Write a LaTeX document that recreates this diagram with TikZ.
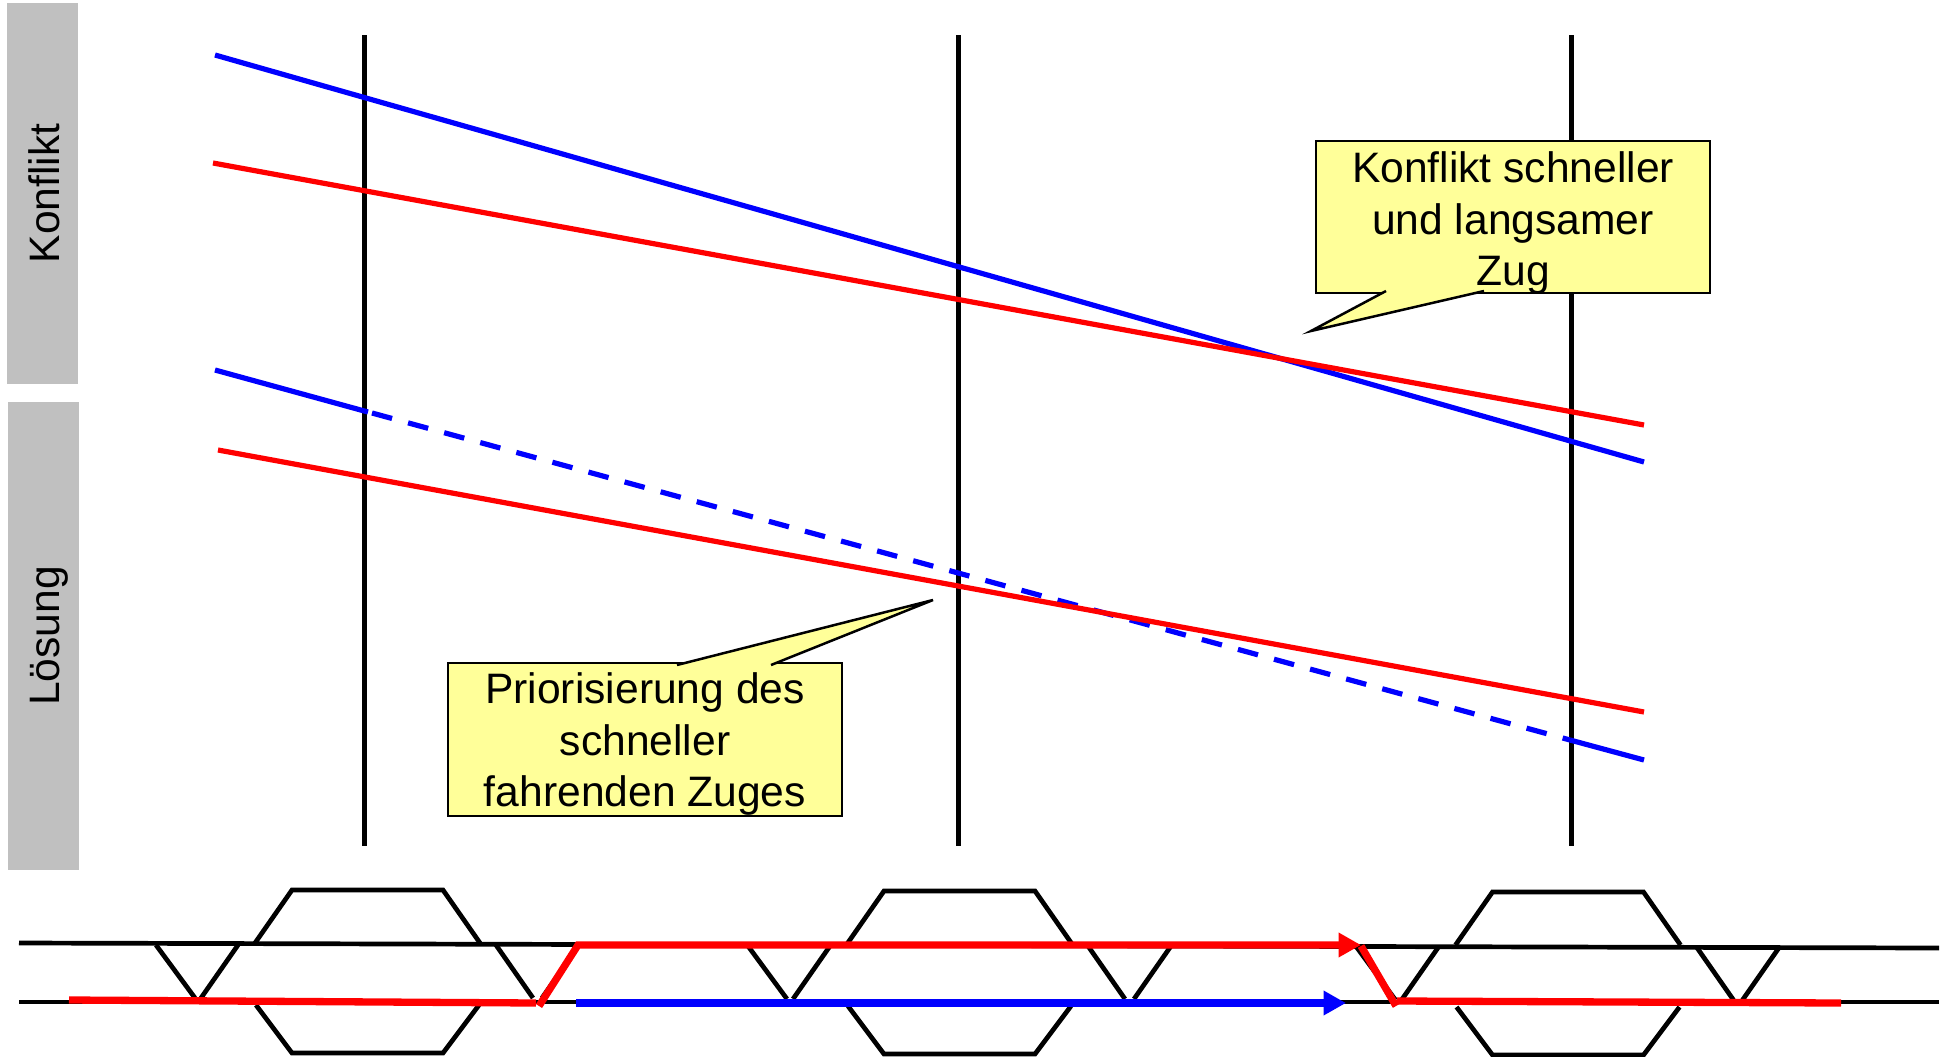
\documentclass[tikz,border=0pt]{standalone}
\usepackage{fontspec}
\setmainfont{Liberation Sans}
\usepackage{xcolor}
\usetikzlibrary{arrows.meta}
\definecolor{notiz}{HTML}{FFFF99}
\definecolor{seite}{HTML}{C0C0C0}

\begin{document}
\begin{tikzpicture}[
    x=0.5pt, y=-0.5pt,
    font=\fontsize{21.3}{25.75}\selectfont,
    side/.style={fill=seite, rotate=90, inner sep=0pt, minimum height=35.5pt, text height=16.5pt, text depth=0pt},
    pole/.style={draw=black, line width=2.65pt},
    fast/.style={draw=blue, line width=2.6pt},
    slow/.style={draw=red, line width=2.6pt},
    note/.style={draw=black, fill=notiz, line width=1.25pt, inner sep=0pt},
    tag/.style={fill=notiz, draw=black, line width=1.25pt},
    txt/.style={align=center, inner sep=0pt},
    track/.style={draw=black, line width=2.35pt},
    thick run/.style={line width=3.65pt},
    run/.style={thick run, -{Triangle[length=11.25pt, width=11.7pt]}},
]
    \useasboundingbox (0,0) rectangle (1951,1056);

    \node[side, minimum width=190.5pt] (konflikt) at (42.5,193.5) {Konflikt};
    \node[side, minimum width=234pt] (loesung) at (43,636) {Lösung};

    \foreach \vx in {364.5,958.5,1571.5}
        \draw[pole] (\vx,35) -- (\vx,846);

    % Konflikt
    \draw[fast] (215,55) -- (1644,462);
    \draw[slow] (213,163) -- (1644,425);

    % Loesung
    \draw[fast] (215,370) -- (368,412);
    \draw[fast, dash pattern=on 10.4pt off 8.3pt] (372,413) -- (1570,740);
    \draw[fast] (1570,740) -- (1644,760);
    \draw[slow] (218,450) -- (1644,712);

    \node[note, minimum width=197pt, minimum height=76pt] (konfliktbox) at (1513,217) {};
    \coordinate (ka) at (1386,291);
    \coordinate (kb) at (1484,291);
    \coordinate (ktip) at (1311,331);
    \path[tag] (ka) -- (ktip) -- (kb);
    \node[txt] (konflikttext) at (1513,223) {Konflikt schneller\\und langsamer\\Zug};

    \node[note, minimum width=197pt, minimum height=76.5pt] (prioritaet) at (645,739.5) {};
    \coordinate (pa) at (677,665);
    \coordinate (pb) at (771,665);
    \coordinate (ptip) at (933,600);
    \path[tag] (pa) -- (ptip) -- (pb);
    \node[txt] (prioritaettext) at (645,744) {Priorisierung des\\schneller\\fahrenden Zuges};

    % Gleise
    \draw[track] (19,943) -- (1939,948);
    \draw[track] (19,1002) -- (1939,1002);
    \foreach \sx/\sy in {292/0,884/1,1492.5/2} {
        \begin{scope}[shift={(\sx,\sy)}]
            \draw[track] (-37,943) -- (0,890) -- (151,890) -- (188,943);
            \draw[track] (-36,1005) -- (0,1053) -- (151,1053) -- (187,1005);
            \draw[track] (-136,945) -- (-97,998);
            \draw[track] (-54,945) -- (-91,998);
            \draw[track] (204,945) -- (241,998);
            \draw[track] (287,945) -- (250,998);
        \end{scope}
    }

    % Zuege
    \draw[thick run, red] (69,1000) -- (536,1003);
    \draw[run, red] (539,1006) -- (578,945) -- (1361,945);
    \draw[run, blue] (576,1003) -- (1346,1003);
    \draw[thick run, red] (1361,946) -- (1396,1006);
    \draw[thick run, red] (1397,1001) -- (1841,1003);
\end{tikzpicture}
\end{document}
